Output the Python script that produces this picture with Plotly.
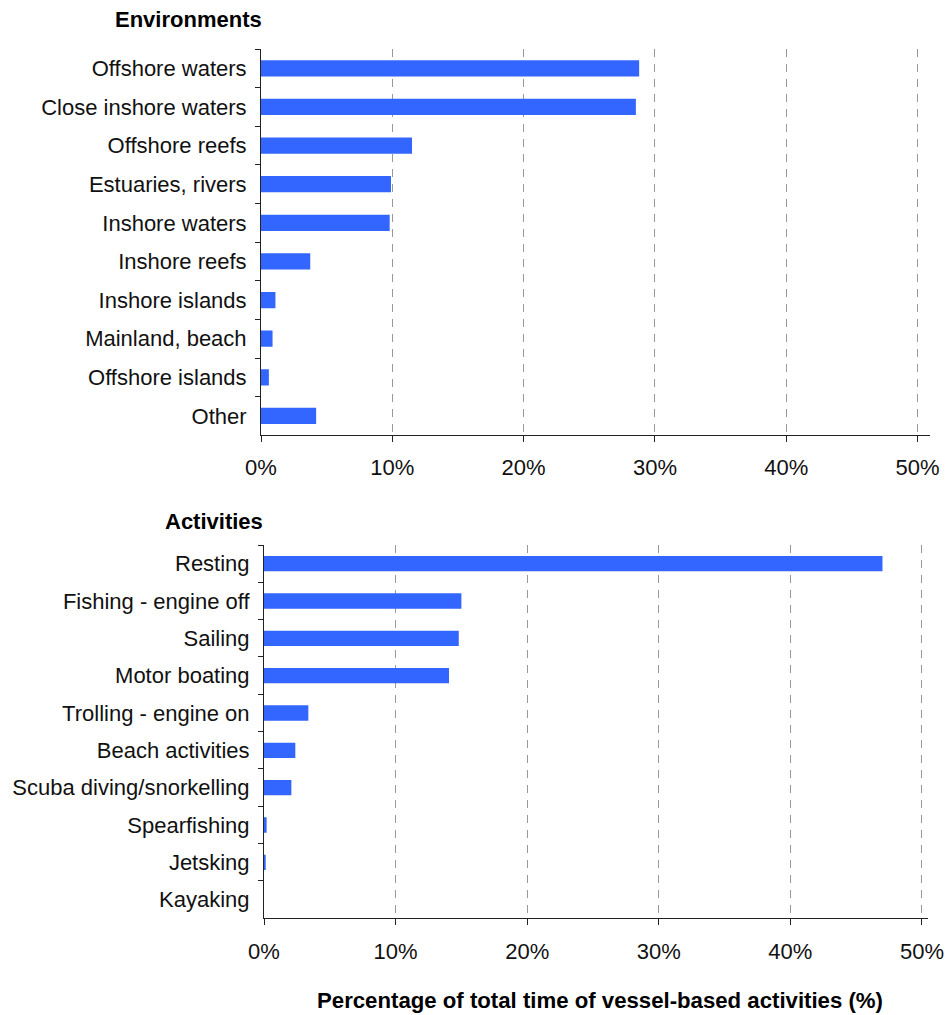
import plotly.graph_objects as go

env_categories = ["Offshore waters", "Close inshore waters", "Offshore reefs", "Estuaries, rivers",
                  "Inshore waters", "Inshore reefs", "Inshore islands", "Mainland, beach",
                  "Offshore islands", "Other"]
env_values = [28.8, 28.55, 11.5, 9.9, 9.8, 3.75, 1.1, 0.88, 0.6, 4.2]

act_categories = ["Resting", "Fishing - engine off", "Sailing", "Motor boating", "Trolling - engine on",
                  "Beach activities", "Scuba diving/snorkelling", "Spearfishing", "Jetsking", "Kayaking"]
act_values = [47.0, 15.0, 14.8, 14.06, 3.37, 2.38, 2.08, 0.2, 0.13, 0.0]

x_tickvals = [0, 10, 20, 30, 40, 50]
x_ticktext = ["0%", "10%", "20%", "30%", "40%", "50%"]

W, H = 945, 1015
FONT = "Liberation Sans, Arial, sans-serif"
BLUE = "#3366ff"


def px(x):
    return x / W


def py(y):
    return 1 - y / H


fig = go.Figure()
fig.add_trace(go.Bar(x=env_values, y=env_categories, orientation="h", marker=dict(color=BLUE, line=dict(width=0)),
                     width=0.42, xaxis="x", yaxis="y", showlegend=False))
fig.add_trace(go.Bar(x=act_values, y=act_categories, orientation="h", marker=dict(color=BLUE, line=dict(width=0)),
                     width=0.41, xaxis="x2", yaxis="y2", showlegend=False))


def xax(domain, rng, anchor, standoff):
    return dict(domain=domain, range=rng, anchor=anchor, tickvals=x_tickvals, ticktext=x_ticktext,
                showgrid=True, gridcolor="#999999", gridwidth=1, griddash="8px,7px",
                showline=True, linecolor="#222222", linewidth=1, ticks="outside", ticklen=6,
                tickcolor="#222222", tickfont=dict(size=22, color="#111111", family=FONT),
                ticklabelstandoff=standoff, zeroline=False, fixedrange=True, automargin=False)


def yax(domain, cats, anchor):
    return dict(domain=domain, anchor=anchor, type="category", categoryorder="array", categoryarray=cats,
                autorange="reversed", showline=True, linecolor="#222222", linewidth=1,
                ticks="outside", ticklen=5, tickcolor="#222222", tickson="boundaries",
                tickfont=dict(size=22, color="#111111", family=FONT), ticklabelstandoff=9,
                showgrid=False, zeroline=False, fixedrange=True, automargin=False)


fig.update_layout(
    width=W, height=H, margin=dict(l=0, r=0, t=0, b=0, autoexpand=False),
    paper_bgcolor="white", plot_bgcolor="white",
    font=dict(family=FONT, color="#111111"),
    xaxis=xax([px(261), px(930)], [0, 50.95], "y", 6),
    yaxis=yax([py(435.3), py(49)], env_categories, "x"),
    xaxis2=xax([px(264), px(928)], [0, 50.46], "y2", 7),
    yaxis2=yax([py(918.3), py(545)], act_categories, "x2"),
    annotations=[
        dict(text="<b>Environments</b>", x=px(264), y=py(20), xref="paper", yref="paper",
             xanchor="right", yanchor="middle", showarrow=False, font=dict(size=22, family=FONT, color="#000")),
        dict(text="<b>Activities</b>", x=px(265), y=py(521), xref="paper", yref="paper",
             xanchor="right", yanchor="middle", showarrow=False, font=dict(size=22, family=FONT, color="#000")),
        dict(text="<b>Percentage of total time of vessel-based activities (%)</b>", x=px(600), y=py(1000),
             xref="paper", yref="paper", xanchor="center", yanchor="middle", showarrow=False,
             font=dict(size=22.2, family=FONT, color="#000")),
    ],
)

fig.write_html("out.html",
               config={"displayModeBar": False, "staticPlot": True},
               post_script="document.body.style.margin='0';document.body.style.overflow='hidden';"
                           "document.documentElement.style.overflow='hidden';")
